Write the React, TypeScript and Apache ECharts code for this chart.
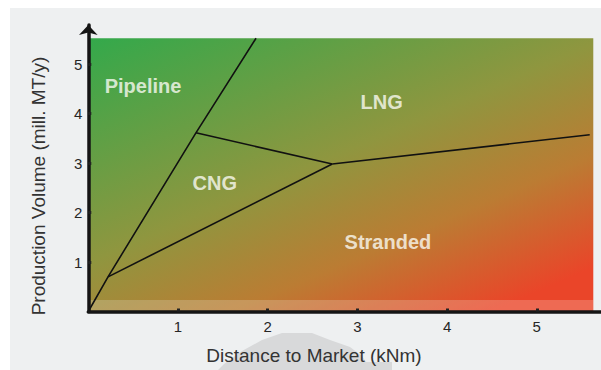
import React, { useEffect, useRef } from "react";
import * as echarts from "echarts";

// Axis ticks (distance in kNm, volume in mill. MT/y)
const xTicks = [1, 2, 3, 4, 5];
const yTicks = [1, 2, 3, 4, 5];

// Extent of the shaded decision field
const fieldXMax = 5.63;
const fieldYMax = 5.52;
const lowerBandTop = 0.23;

// Boundaries between the transport options: [distance, volume]
const pipelineBoundary = [
  [0, 0],
  [0.22, 0.7],
  [1.2, 3.61],
  [1.87, 5.52],
];
const cngLowerBoundary = [
  [0.22, 0.7],
  [2.72, 2.98],
];
const cngLngBoundary = [
  [1.2, 3.61],
  [2.72, 2.98],
];
const lngStrandedBoundary = [
  [2.72, 2.98],
  [5.59, 3.57],
];

// Region names and where they sit in data space
const regionNames = ["Pipeline", "LNG", "CNG", "Stranded"];
const regionX = [0.61, 3.27, 1.41, 3.34];
const regionY = [4.56, 4.23, 2.6, 1.4];

const FONT = "'Liberation Sans', Arial, sans-serif";

export default function App() {
  const ref = useRef<HTMLDivElement>(null);

  useEffect(() => {
    document.body.style.margin = "0";
    if (!ref.current) return;
    const chart = echarts.init(ref.current, undefined, { renderer: "svg" });

    const boundaryStyle = { color: "#111111", width: 1.6 };
    const boundary = (data: number[][]) => ({
      type: "line",
      data,
      symbol: "none",
      silent: true,
      z: 3,
      lineStyle: boundaryStyle,
    });

    chart.setOption({
      animation: false,
      backgroundColor: "#ffffff",
      grid: { left: 88.3, right: 0, top: 25, bottom: 58.5, containLabel: false },
      xAxis: {
        type: "value",
        min: 0,
        max: 5.716,
        interval: 1,
        z: 10,
        axisLine: { show: true, lineStyle: { color: "#151515", width: 3.5 } },
        axisTick: {
          show: true,
          inside: true,
          length: 3,
          customValues: xTicks,
          lineStyle: { color: "#222", width: 3 },
        },
        axisLabel: {
          customValues: xTicks,
          margin: 7,
          color: "#262626",
          fontSize: 15,
          fontFamily: FONT,
        },
        splitLine: { show: false },
      },
      yAxis: {
        type: "value",
        min: 0,
        max: 5.788,
        interval: 1,
        z: 10,
        axisLine: {
          show: true,
          symbol: ["none", "arrow"],
          symbolSize: [14, 10],
          lineStyle: { color: "#151515", width: 3.5 },
        },
        axisTick: {
          show: true,
          inside: true,
          length: 3,
          customValues: yTicks,
          lineStyle: { color: "#222", width: 3 },
        },
        axisLabel: {
          customValues: yTicks,
          margin: 6,
          color: "#262626",
          fontSize: 15,
          fontFamily: FONT,
        },
        splitLine: { show: false },
      },
      graphic: [
        {
          type: "rect",
          z: -10,
          shape: { x: 10, y: 8, width: 591, height: 362 },
          style: { fill: "#eef0f1" },
          silent: true,
        },
        {
          type: "polygon",
          z: -9,
          shape: {
            points: [
              [218, 370],
              [224, 364],
              [242, 351],
              [262, 340],
              [282, 333],
              [312, 333],
              [330, 340],
              [350, 347],
              [362, 356],
              [366, 362],
              [392, 362],
              [392, 370],
            ],
          },
          style: { fill: "#d8d9da" },
          silent: true,
        },
        {
          type: "text",
          x: 314,
          y: 355,
          style: {
            text: "Distance to Market (kNm)",
            fill: "#333",
            font: `19px ${FONT}`,
            textAlign: "center",
            textVerticalAlign: "middle",
          },
        },
        {
          type: "text",
          x: 38,
          y: 186,
          rotation: Math.PI / 2,
          style: {
            text: "Production Volume (mill. MT/y)",
            fill: "#333",
            font: `19px ${FONT}`,
            textAlign: "center",
            textVerticalAlign: "middle",
          },
        },
      ],
      series: [
        {
          type: "line",
          data: [],
          silent: true,
          z: 1,
          markArea: {
            silent: true,
            data: [
              [
                {
                  coord: [0, 0],
                  itemStyle: {
                    color: new echarts.graphic.LinearGradient(0, 0, 0.8, 1, [
                      { offset: 0, color: "#33a94b" },
                      { offset: 0.5, color: "#8f963f" },
                      { offset: 0.75, color: "#bb7c33" },
                      { offset: 1, color: "#ea4529" },
                    ]),
                  },
                },
                { coord: [fieldXMax, fieldYMax] },
              ],
              [
                {
                  coord: [0, 0],
                  itemStyle: { color: "rgba(255,255,255,0.2)" },
                },
                { coord: [fieldXMax, lowerBandTop] },
              ],
            ],
          },
        },
        boundary(pipelineBoundary),
        boundary(cngLowerBoundary),
        boundary(cngLngBoundary),
        boundary(lngStrandedBoundary),
        {
          type: "scatter",
          z: 4,
          silent: true,
          symbolSize: 1,
          itemStyle: { color: "rgba(0,0,0,0)" },
          data: regionNames.map((name, i) => ({
            name,
            value: [regionX[i], regionY[i]],
          })),
          label: {
            show: true,
            position: "inside",
            formatter: "{b}",
            color: "#fbfbf4",
            fontSize: 20,
            fontWeight: "bold",
            fontFamily: FONT,
          },
        },
      ],
    });

    return () => chart.dispose();
  }, []);

  return <div ref={ref} style={{ width: 601, height: 370 }} />;
}
